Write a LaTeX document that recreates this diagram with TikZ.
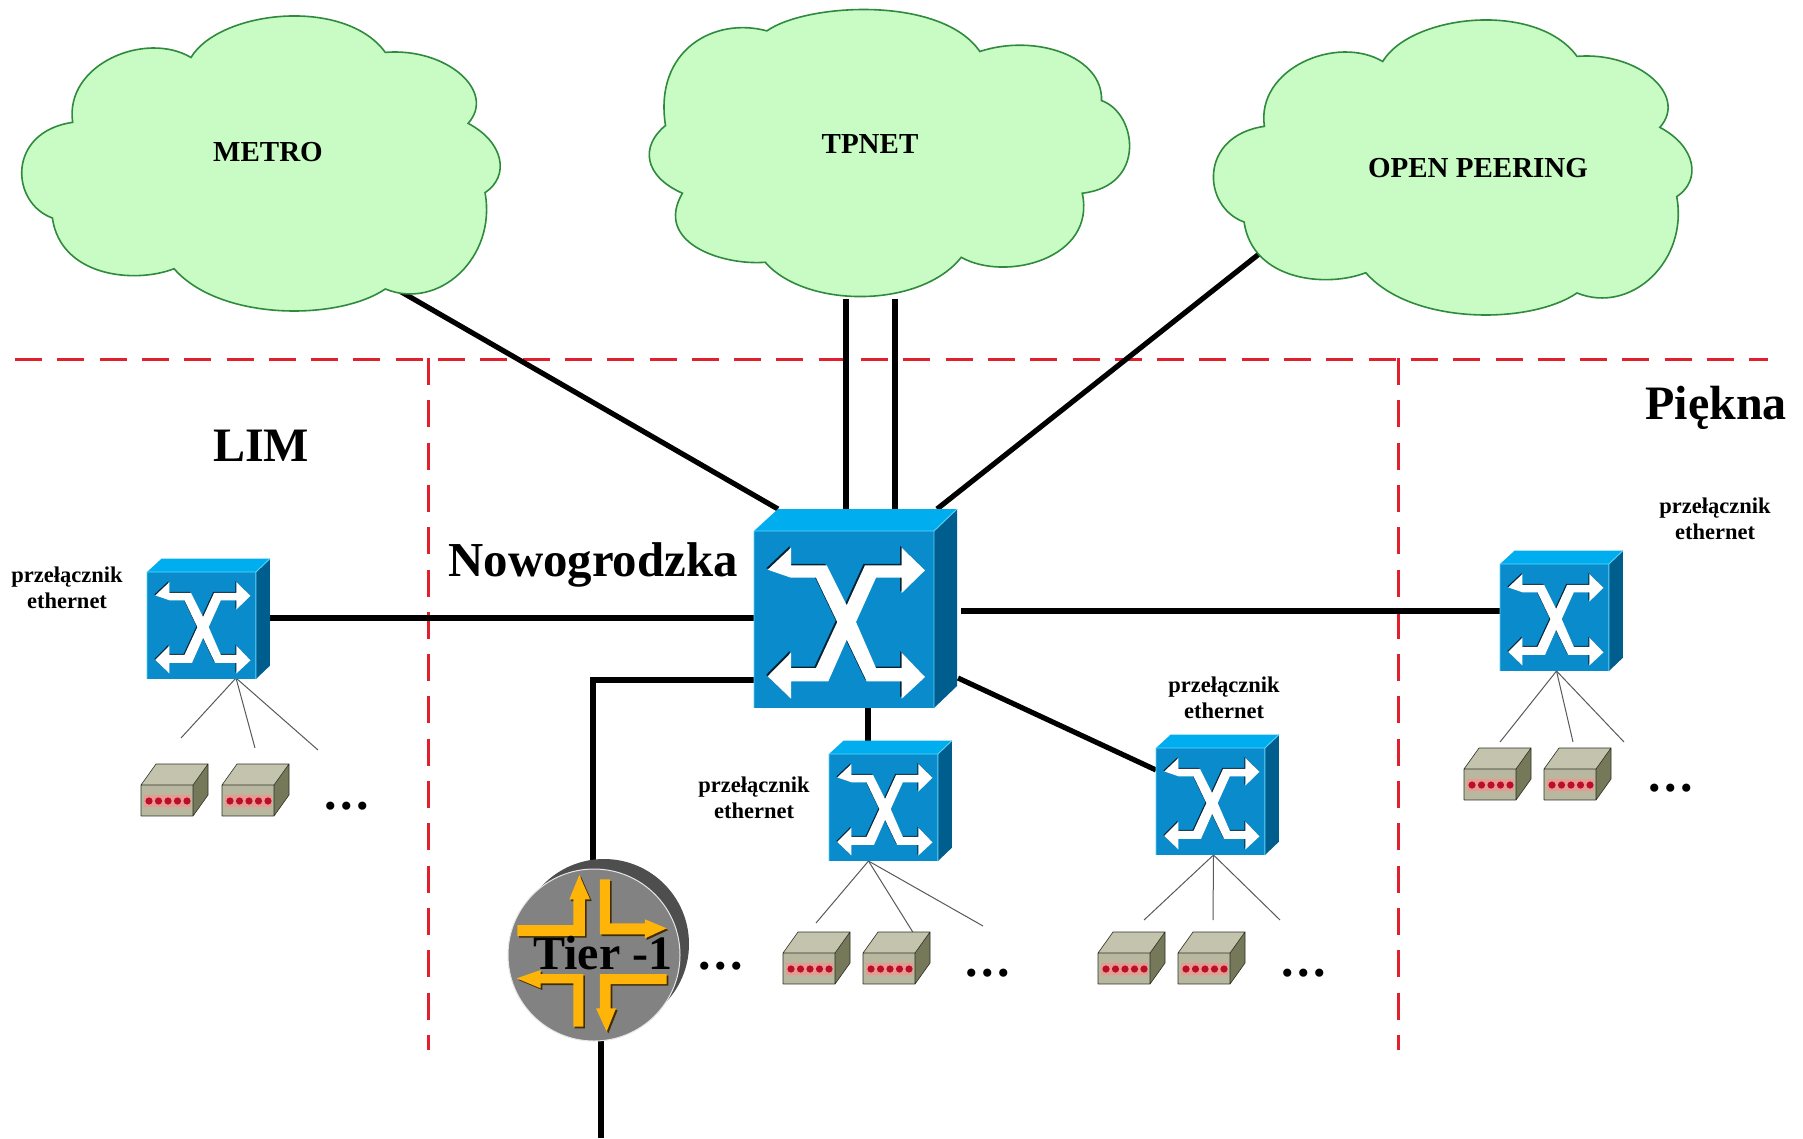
\documentclass[tikz,border=0pt]{standalone}
\usepackage{fontspec}
\setmainfont{Liberation Serif}
\usetikzlibrary{calc}
\definecolor{cloudfill}{HTML}{C8FCC4}
\definecolor{cloudedge}{HTML}{2F8A3E}
\definecolor{swfront}{HTML}{0A8CCC}
\definecolor{swtop}{HTML}{00AEEF}
\definecolor{swside}{HTML}{005E8E}
\definecolor{swedge}{HTML}{5CD4F8}
\definecolor{dashred}{HTML}{E0202C}
\definecolor{devfront}{HTML}{B8B8A0}
\definecolor{devtop}{HTML}{C4C4AE}
\definecolor{devside}{HTML}{76785A}
\definecolor{devled}{HTML}{B8102C}
\definecolor{devstrip}{HTML}{E89A90}
\definecolor{arrowyellow}{HTML}{FFB40A}
\definecolor{routerface}{HTML}{828282}
\definecolor{routerback}{HTML}{4E4E4E}
\tikzset{
  cloudshape/.style={draw=cloudedge,fill=cloudfill,line width=1.6pt},
  anchorbox/.style={inner sep=0pt,outer sep=0pt,anchor=north west},
  link/.style={draw=black,line width=5.2pt},
  fan/.style={draw=black!65,line width=1pt},
  zone/.style={draw=dashred,line width=3pt,dash pattern=on 27pt off 15.3pt},
  big/.style={font=\bfseries\fontsize{48}{50}\selectfont},
  cloudlabel/.style={font=\bfseries\fontsize{29}{30}\selectfont},
  small/.style={font=\bfseries\fontsize{22.5}{26}\selectfont,align=center},
  dots/.style={font=\bfseries\fontsize{50}{50}\selectfont,inner sep=0pt,anchor=base},
}
\newcommand{\namedbox}[5]{\node[anchorbox,minimum width=#4pt,minimum height=#5pt] (#1) at (#2,#3) {};}
\newcommand{\drawswitch}[3]{%
\begin{scope}[shift={(#1,#2)},x=#3pt,y=-#3pt]
  \fill[swfront] (0,0) rectangle (180,177);
  \fill[swtop] (0,0) -- (24,-22) -- (203,-22) -- (180,0) -- cycle;
  \fill[swside] (180,0) -- (203,-22) -- (203,155) -- (180,177) -- cycle;
  \draw[swedge,line width=.9pt] (0,177) -- (0,0) -- (180,0) -- (180,177) (180,0) -- (203,-22);
  \foreach \ox/\oy/\col in {-1.5/-1.5/black!75!swfront,0/0/white}{
  \fill[\col,shift={(\ox,\oy)}] (13.7,38.7) -- (37,16.7) -- (37,34.3) -- (72.7,34.3) -- (92.7,74.3) -- (111,34.3) -- (147.7,34.3) -- (147.7,16.7)
    -- (171,39.3) -- (147.7,62) -- (147.7,46.7) -- (122,46.7) -- (102,91) -- (122,137) -- (147.7,137) -- (147.7,121.7)
    -- (171,146) -- (147.7,167.7) -- (147.7,150.3) -- (112.7,150.3) -- (92.7,108.7) -- (74.3,150.3) -- (37,150.3) -- (37,167.7)
    -- (13.7,145.3) -- (37,121.7) -- (37,137) -- (62,137) -- (83.3,91) -- (62,46.7) -- (37,46.7) -- cycle;}
\end{scope}}
\newcommand{\drawdevice}[2]{%
\begin{scope}[shift={(#1,#2)}]
  \fill[devfront] (0,0) rectangle (52,31);
  \fill[devtop] (0,0) -- (15,-21) -- (67,-21) -- (52,0) -- cycle;
  \fill[devside] (52,0) -- (67,-21) -- (67,10) -- (52,31) -- cycle;
  \draw[black!60!devside,line width=.6pt] (0,31) -- (0,0) -- (15,-21) -- (67,-21) -- (67,10) -- (52,31) -- (0,31) (0,0) -- (52,0) -- (52,31) (52,0) -- (67,-21);
  \fill[devstrip] (3,10) rectangle (50,22);
  \foreach \lx in {8,17.5,27,36.5,46}{\fill[devled] (\lx,16) circle (3.6);}
\end{scope}}
\newcommand{\fanout}[8]{%
  \coordinate (#1-a) at (#3,#4);
  \coordinate (#1-b) at (#5,#6);
  \coordinate (#1-c) at (#7,#8);
  \draw[fan] ([xshift=#2pt]#1.south) -- (#1-a);
  \draw[fan] ([xshift=#2pt]#1.south) -- (#1-b);
  \draw[fan] ([xshift=#2pt]#1.south) -- (#1-c);}
\newcommand{\threedots}{.\kern3.5pt.\kern3.5pt.}
\newcommand{\pathmetro}{(565,170) .. controls (650,30) and (1020,-10) .. (1140,155)
  .. controls (1320,140) and (1470,270) .. (1385,365)
  .. controls (1490,420) and (1510,520) .. (1435,570)
  .. controls (1470,760) and (1300,920) .. (1140,855)
  .. controls (1000,950) and (650,950) .. (515,795)
  .. controls (400,840) and (180,820) .. (155,645)
  .. controls (30,600) and (20,390) .. (215,362)
  .. controls (190,190) and (430,90) .. (565,170) -- cycle}
\begin{document}
\begin{tikzpicture}[x=1pt,y=-1pt]
\useasboundingbox (0,0) rectangle (1803,1138);
\fill[white] (0,0) rectangle (1803,1138);
% named boxes
\namedbox{metro}{20}{16}{483}{296}
\namedbox{tpnet}{648}{7}{484}{292}
\namedbox{openp}{1212}{20}{482}{297}
\namedbox{main}{754}{509}{203}{199}
\namedbox{swL}{147}{558}{123}{120}
\namedbox{swR}{1500}{551}{123}{120}
\namedbox{swD}{829}{741}{123}{120}
\namedbox{swE}{1156}{735}{123}{120}
\node[circle,inner sep=0pt,minimum size=172pt] (tier) at (594,955) {};
\coordinate (tierend) at (601,1138);
% zones
\coordinate (zl) at (15,359);
\coordinate (zr) at (1768,359);
\coordinate (va) at (428,358);
\coordinate (vb) at (1398,358);
\coordinate (vae) at (428,1050);
\coordinate (vbe) at (1398,1050);
\draw[zone] (zl) -- (zr);
\draw[zone] (va) -- (vae);
\draw[zone] (vb) -- (vbe);
% links
\draw[link] ([xshift=-112pt,yshift=26pt]metro.south east) -- ([xshift=24pt]main.north west);
\draw[link] ([xshift=-44pt]tpnet.south) -- ([xshift=-44pt]tpnet.south |- main.north);
\draw[link] ([xshift=5pt]tpnet.south) -- ([xshift=5pt]tpnet.south |- main.north);
\draw[link] ([xshift=47pt,yshift=63pt]openp.south west) -- ([xshift=-20pt]main.north east);
\draw[link] (swL.east) -- (swL.east -| main.west);
\draw[link] ([xshift=4pt]swR.west -| main.east) -- (swR.west);
\draw[link] ([yshift=-71.5pt]main.west) -| ([xshift=-1pt,yshift=8pt]tier.north);
\draw[link] ([xshift=12.5pt]main.south) -- ([xshift=12.5pt]main.south |- swD.north);
\draw[link] ([yshift=-69.5pt,xshift=1pt]main.east) -- ([yshift=25pt]swE.west);
\draw[link] (tierend |- tier.south) -- (tierend);
% fan-out lines
\fanout{swL}{27.5}{181}{738}{255}{748}{318}{750}
\fanout{swR}{-5}{1500}{742}{1573}{742}{1624}{742}
\fanout{swD}{-22}{816}{923}{914}{934}{983}{926}
\fanout{swE}{-4}{1144}{920}{1213}{920}{1280}{920}
% clouds
\begin{scope}[x=.338pt,y=-.338pt]
  \draw[cloudshape] \pathmetro;
\end{scope}
\begin{scope}[shift={(1191.7,4)},x=.338pt,y=-.338pt]
  \draw[cloudshape] \pathmetro;
\end{scope}
\begin{scope}[shift={(630,0)},x=.338pt,y=-.332pt]
  \draw[cloudshape] (405,93) .. controls (520,10) and (920,-15) .. (1035,155)
   .. controls (1200,100) and (1400,170) .. (1395,303)
   .. controls (1500,340) and (1530,560) .. (1338,582)
   .. controls (1380,780) and (1110,850) .. (980,775)
   .. controls (860,930) and (520,930) .. (400,790)
   .. controls (270,800) and (70,730) .. (155,582)
   .. controls (40,530) and (30,440) .. (105,378)
   .. controls (70,150) and (250,50) .. (405,93) -- cycle;
\end{scope}
\node[cloudlabel] (lmetro) at (268,152) {METRO};
\node[cloudlabel] (ltpnet) at (870,144) {TPNET};
\node[cloudlabel] (lopen) at (1478,168) {OPEN PEERING};
% switches
\drawswitch{754}{531}{1}
\drawswitch{147}{572}{.605}
\drawswitch{1500}{564}{.605}
\drawswitch{829}{754}{.605}
\drawswitch{1156}{748}{.605}
% devices
\drawdevice{141}{785}
\drawdevice{222}{785}
\drawdevice{1464}{769}
\drawdevice{1544}{769}
\drawdevice{783}{953}
\drawdevice{863}{953}
\drawdevice{1098}{953}
\drawdevice{1178}{953}
% router
\fill[routerback] (604,944) circle (85);
\fill[routerface] (tier.center) circle (86);
\draw[white!80!routerface,line width=1pt] (tier.center) circle (86);
\begin{scope}[shift={(490,840)},x=.3333pt,y=-.3333pt]
  \foreach \ox/\oy/\col in {5/5/black!75!arrowyellow,0/0/arrowyellow}{
  \fill[\col,shift={(\ox,\oy)}] (82,255) -- (250,255) -- (250,178) -- (238,178) -- (268,105) -- (300,178) -- (285,178) -- (285,288) -- (82,288) -- cycle;
  \fill[\col,shift={(\ox,\oy)}] (330,118) -- (360,118) -- (360,250) -- (465,250) -- (465,238) -- (530,265) -- (465,295) -- (465,283) -- (330,283) -- cycle;
  \fill[\col,shift={(\ox,\oy)}] (280,402) -- (280,560) -- (250,560) -- (250,430) -- (152,430) -- (152,445) -- (80,415) -- (152,390) -- (152,402) -- cycle;
  \fill[\col,shift={(\ox,\oy)}] (330,402) -- (530,402) -- (530,432) -- (362,432) -- (362,505) -- (378,505) -- (350,575) -- (318,505) -- (330,505) -- cycle;}
\end{scope}
\node[font=\bfseries\fontsize{48}{50}\selectfont,inner sep=0pt,anchor=base] (ltier) at (603,969) {Tier -1};
% labels
\node[big] (llim) at (261,446) {LIM};
\node[font=\bfseries\fontsize{48.8}{52}\selectfont] (lnowo) at (593,565) {Nowogrodzka};
\node[big] (lpiek) at (1716,408) {Piękna};
\node[small] (p1) at (67,588) {przełącznik\\ethernet};
\node[small] (p2) at (1715,519) {przełącznik\\ethernet};
\node[small] (p3) at (754,798) {przełącznik\\ethernet};
\node[small] (p4) at (1224,698) {przełącznik\\ethernet};
% ellipses
\node[dots] (d1) at (347,809) {\threedots};
\node[dots] (d2) at (1671,791) {\threedots};
\node[dots] (d3) at (721,969) {\threedots};
\node[dots] (d4) at (988,976) {\threedots};
\node[dots] (d5) at (1304,976) {\threedots};
\end{tikzpicture}
\end{document}
